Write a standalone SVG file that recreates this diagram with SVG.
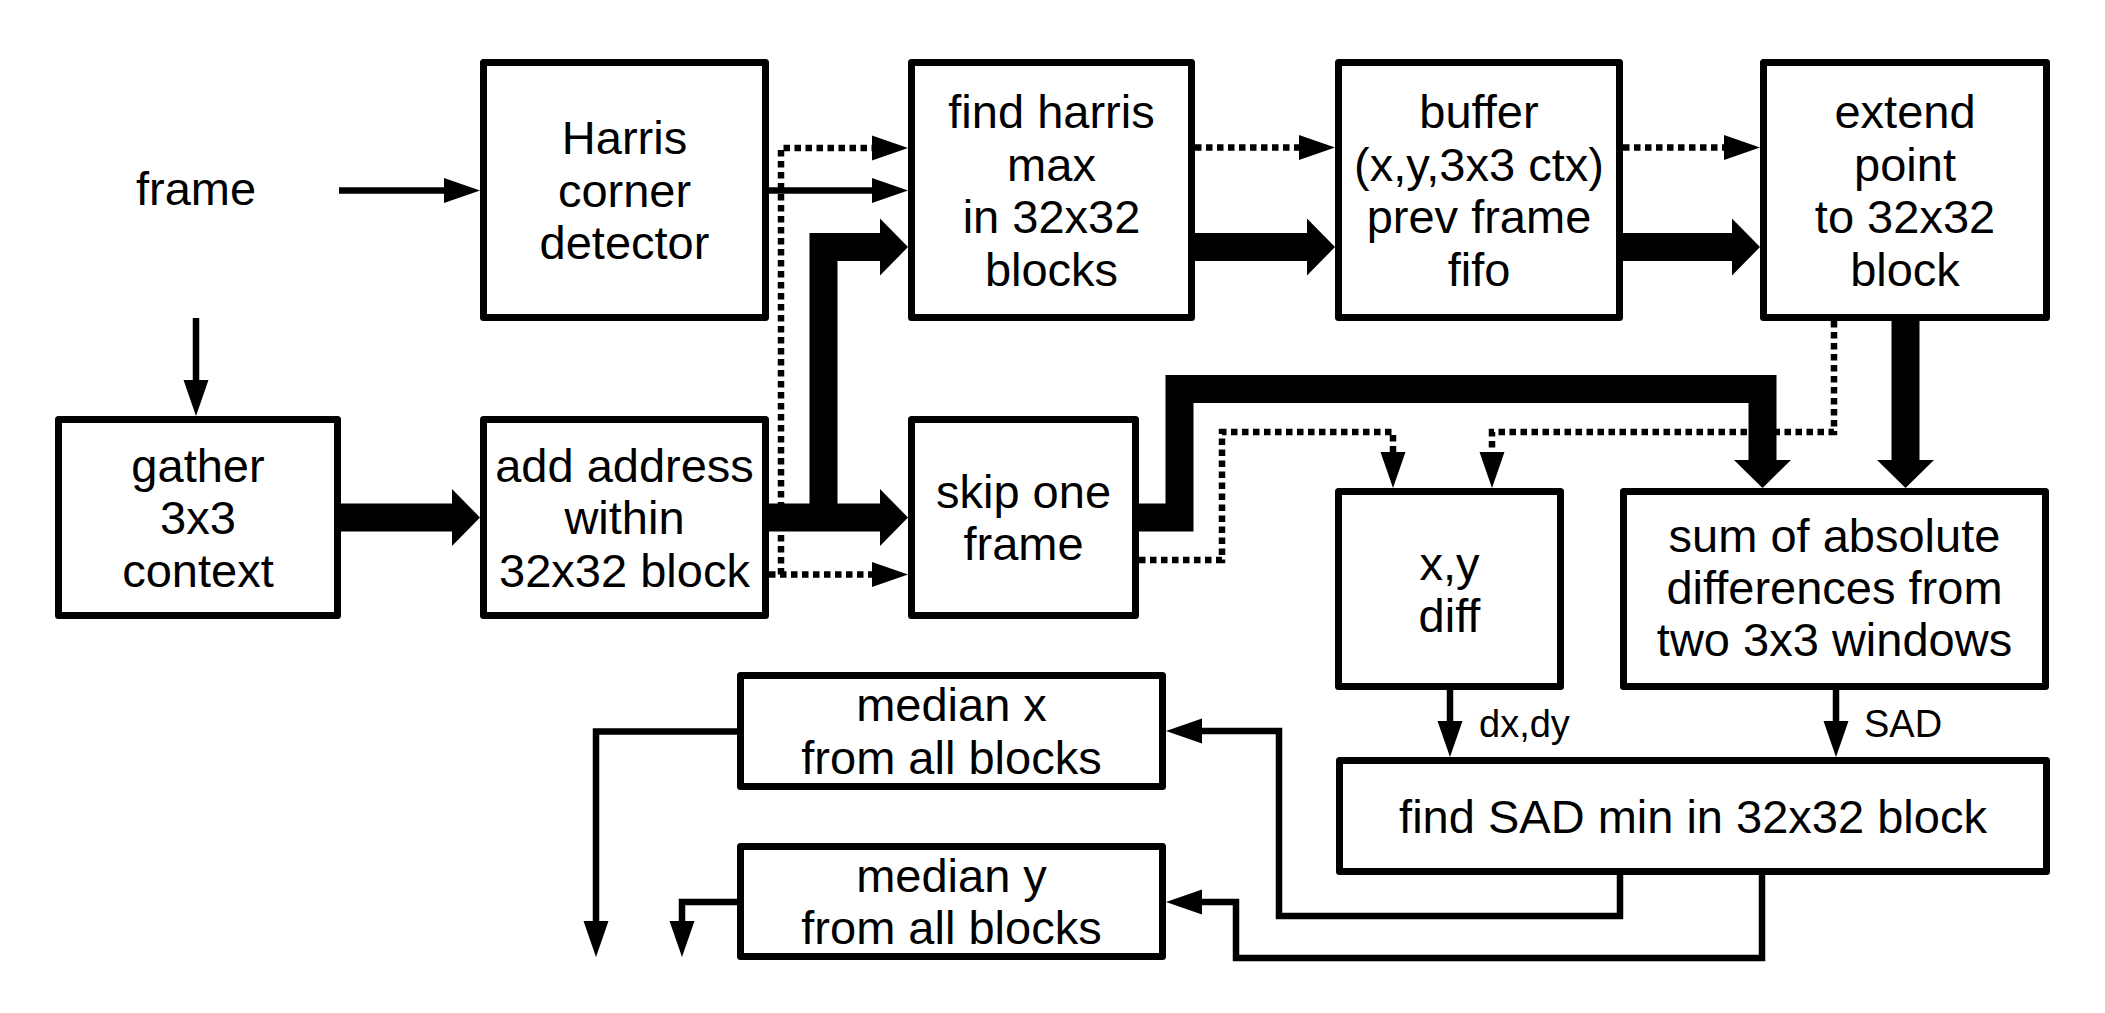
<svg xmlns="http://www.w3.org/2000/svg" width="2105" height="1013" viewBox="0 0 2105 1013">
<style>
.box{fill:#fff;stroke:#000;stroke-width:7;stroke-linejoin:round}
.t{font-family:"Liberation Sans",Arial,sans-serif;font-size:47px;fill:#000;text-anchor:middle}
.lbl{font-family:"Liberation Sans",Arial,sans-serif;font-size:38px;fill:#000}
.thin{fill:none;stroke:#000;stroke-width:6.5;stroke-linejoin:miter}
.thick{fill:none;stroke:#000;stroke-width:28;stroke-linejoin:miter}
.dot{fill:none;stroke:#000;stroke-width:6.5;stroke-dasharray:6.5 4.5}
</style>
<defs>
<marker id="ah" markerUnits="userSpaceOnUse" markerWidth="36" markerHeight="26" viewBox="0 -13 36 26" refX="0" refY="0" orient="auto" overflow="visible"><path d="M0,-12.5 L36,0 L0,12.5 z" fill="#000"/></marker>
<marker id="ahT" markerUnits="userSpaceOnUse" markerWidth="28" markerHeight="58" viewBox="0 -29 28 58" refX="0" refY="0" orient="auto" overflow="visible"><path d="M0,-28.5 L28,0 L0,28.5 z" fill="#000"/></marker>
</defs>
<rect width="2105" height="1013" fill="#fff"/>
<g id="connectors">
<path class="thin" d="M339,190.5 H444" marker-end="url(#ah)"/>
<path class="thin" d="M196,318 V380" marker-end="url(#ah)"/>
<path class="thin" d="M769,190.5 H872" marker-end="url(#ah)"/>
<path class="thick" d="M341,517.5 H452" marker-end="url(#ahT)"/>
<path class="thick" d="M769,517.5 H880" marker-end="url(#ahT)"/>
<path class="thick" d="M823.5,517.5 V247 H880" marker-end="url(#ahT)"/>
<path class="thick" d="M1195,247 H1307" marker-end="url(#ahT)"/>
<path class="thick" d="M1623,247 H1732" marker-end="url(#ahT)"/>
<path class="thick" d="M1905.5,321 V460" marker-end="url(#ahT)"/>
<path class="thick" d="M1139,517.5 H1179.5 V389 H1762.5 V460" marker-end="url(#ahT)"/>
<path class="dot" d="M769,574.5 H872" marker-end="url(#ah)"/>
<path class="dot" d="M781,574.5 V148 H872" marker-end="url(#ah)"/>
<path class="dot" d="M1195,147.5 H1299" marker-end="url(#ah)"/>
<path class="dot" d="M1623,147.5 H1724" marker-end="url(#ah)"/>
<path class="dot" d="M1834,321 V432 H1492 V452" marker-end="url(#ah)"/>
<path class="dot" d="M1139,560 H1222 V432 H1393 V452" marker-end="url(#ah)"/>
<path class="thin" d="M1450,690 V721" marker-end="url(#ah)"/>
<path class="thin" d="M1836,690 V721" marker-end="url(#ah)"/>
<path class="thin" d="M1620,875 V916 H1279 V731 H1202" marker-end="url(#ah)"/>
<path class="thin" d="M1762,875 V958 H1236 V902 H1202" marker-end="url(#ah)"/>
<path class="thin" d="M737,731.5 H596 V921" marker-end="url(#ah)"/>
<path class="thin" d="M737,902 H682 V921" marker-end="url(#ah)"/>
<text class="lbl" x="1479" y="737">dx,dy</text>
<text class="lbl" x="1864" y="737">SAD</text>
</g>
<g id="frame-label"><text class="t" x="196" y="205">frame</text></g>
<g id="harris">
<rect class="box" x="483.5" y="62.5" width="282" height="255"/>
<text class="t" x="624.5" y="154">Harris</text>
<text class="t" x="624.5" y="206.5">corner</text>
<text class="t" x="624.5" y="259">detector</text>
</g>
<g id="findmax">
<rect class="box" x="911.5" y="62.5" width="280" height="255"/>
<text class="t" x="1051.5" y="128">find harris</text>
<text class="t" x="1051.5" y="180.5">max</text>
<text class="t" x="1051.5" y="233">in 32x32</text>
<text class="t" x="1051.5" y="285.5">blocks</text>
</g>
<g id="buffer">
<rect class="box" x="1338.5" y="62.5" width="281" height="255"/>
<text class="t" x="1479" y="128">buffer</text>
<text class="t" x="1479" y="180.5">(x,y,3x3 ctx)</text>
<text class="t" x="1479" y="233">prev frame</text>
<text class="t" x="1479" y="285.5">fifo</text>
</g>
<g id="extend">
<rect class="box" x="1763.5" y="62.5" width="283" height="255"/>
<text class="t" x="1905" y="128">extend</text>
<text class="t" x="1905" y="180.5">point</text>
<text class="t" x="1905" y="233">to 32x32</text>
<text class="t" x="1905" y="285.5">block</text>
</g>
<g id="gather">
<rect class="box" x="58.5" y="419.5" width="279" height="196"/>
<text class="t" x="198" y="481.5">gather</text>
<text class="t" x="198" y="534">3x3</text>
<text class="t" x="198" y="586.5">context</text>
</g>
<g id="addaddr">
<rect class="box" x="483.5" y="419.5" width="282" height="196"/>
<text class="t" x="624.5" y="481.5">add address</text>
<text class="t" x="624.5" y="534">within</text>
<text class="t" x="624.5" y="586.5">32x32 block</text>
</g>
<g id="skip">
<rect class="box" x="911.5" y="419.5" width="224" height="196"/>
<text class="t" x="1023.5" y="507.5">skip one</text>
<text class="t" x="1023.5" y="560">frame</text>
</g>
<g id="xydiff">
<rect class="box" x="1338.5" y="491.5" width="222" height="195"/>
<text class="t" x="1449.5" y="580">x,y</text>
<text class="t" x="1449.5" y="632">diff</text>
</g>
<g id="sad">
<rect class="box" x="1623.5" y="491.5" width="422" height="195"/>
<text class="t" x="1834.5" y="552">sum of absolute</text>
<text class="t" x="1834.5" y="604">differences from</text>
<text class="t" x="1834.5" y="656">two 3x3 windows</text>
</g>
<g id="sadmin">
<rect class="box" x="1339.5" y="760.5" width="707" height="111"/>
<text class="t" x="1693" y="833">find SAD min in 32x32 block</text>
</g>
<g id="medx">
<rect class="box" x="740.5" y="675.5" width="422" height="111"/>
<text class="t" x="951.5" y="721">median x</text>
<text class="t" x="951.5" y="773.5">from all blocks</text>
</g>
<g id="medy">
<rect class="box" x="740.5" y="846.5" width="422" height="110"/>
<text class="t" x="951.5" y="891.5">median y</text>
<text class="t" x="951.5" y="944">from all blocks</text>
</g>
</svg>
